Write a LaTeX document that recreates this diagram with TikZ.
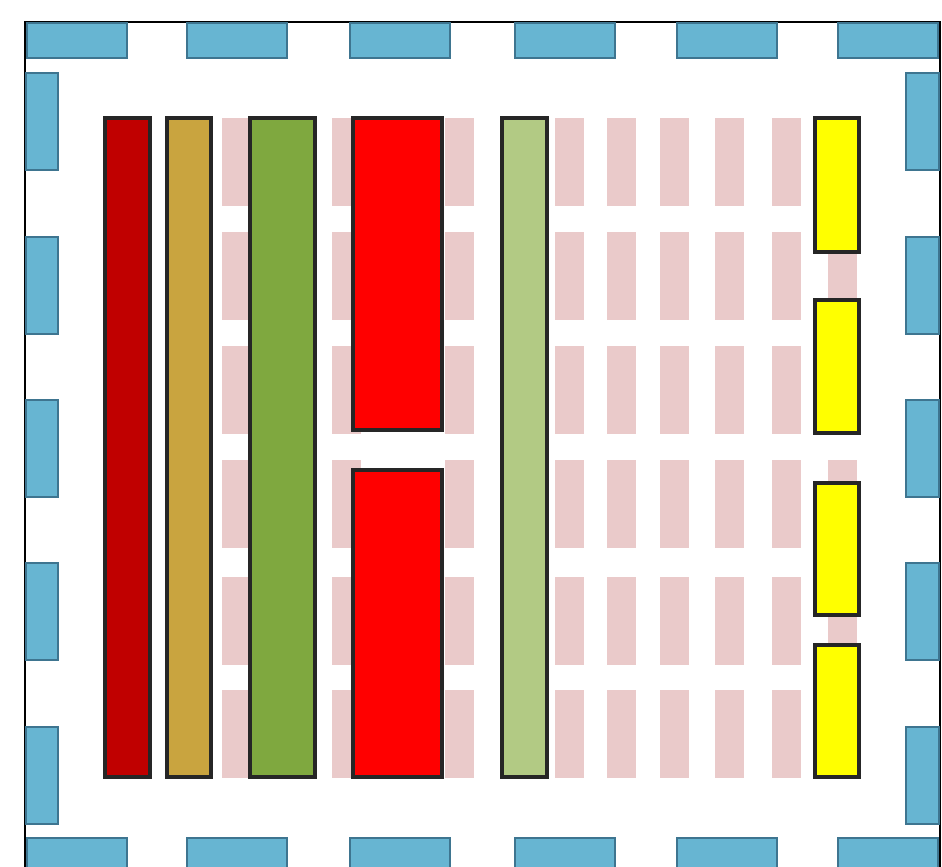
\documentclass[tikz,border=0pt]{standalone}
\usepackage{xcolor}
\usepackage{tikz}
\usetikzlibrary{positioning}

\definecolor{rimblue}{HTML}{67B5D2}
\definecolor{rimedge}{HTML}{3E7590}
\definecolor{cellpink}{HTML}{EACACA}
\definecolor{wirered}{HTML}{C00000}
\definecolor{wiregold}{HTML}{C9A43F}
\definecolor{wiregreen}{HTML}{7FA83F}
\definecolor{wirelime}{HTML}{B2CA84}
\definecolor{wireyellow}{HTML}{FFFF00}

\begin{document}
\begin{tikzpicture}[
  x=0.01cm, y=-0.01cm,
  cell/.style={fill=cellpink},
  bar/.style={draw=black!85, line width=0.9pt},
  rimbit/.style={fill=rimblue, draw=rimedge, line width=0.5pt}
]
\useasboundingbox (0,0) rectangle (942,866);
\clip (0,0) rectangle (942,866);

% background cells
\foreach \cx in {222,332,445,555,607,660,715,772,828}
  \foreach \cy in {118,232,346,460,577,690}
    \fill[cell] (\cx,\cy) rectangle ++(29,88);

% frame
\draw[line width=0.6pt] (25,22) rectangle (940,873);
\foreach \bx in {27,187,350,515,677,838} {
  \draw[rimbit] (\bx,23) rectangle ++(100,35);
  \draw[rimbit] (\bx,838) rectangle ++(100,35);
}
\foreach \by in {73,237,400,563,727} {
  \draw[rimbit] (26,\by) rectangle ++(32,97);
  \draw[rimbit] (906,\by) rectangle ++(33,97);
}

% bars
\draw[bar, fill=wirered] (105,118) rectangle (150,777);
\draw[bar, fill=wiregold] (167,118) rectangle (211,777);
\draw[bar, fill=wiregreen] (250,118) rectangle (315,777);
\draw[bar, fill=red] (353,118) rectangle (442,430);
\draw[bar, fill=red] (353,470) rectangle (442,777);
\draw[bar, fill=wirelime] (502,118) rectangle (547,777);
\draw[bar, fill=wireyellow] (815,118) rectangle (859,252);
\draw[bar, fill=wireyellow] (815,300) rectangle (859,433);
\draw[bar, fill=wireyellow] (815,483) rectangle (859,615);
\draw[bar, fill=wireyellow] (815,645) rectangle (859,777);
\end{tikzpicture}
\end{document}
